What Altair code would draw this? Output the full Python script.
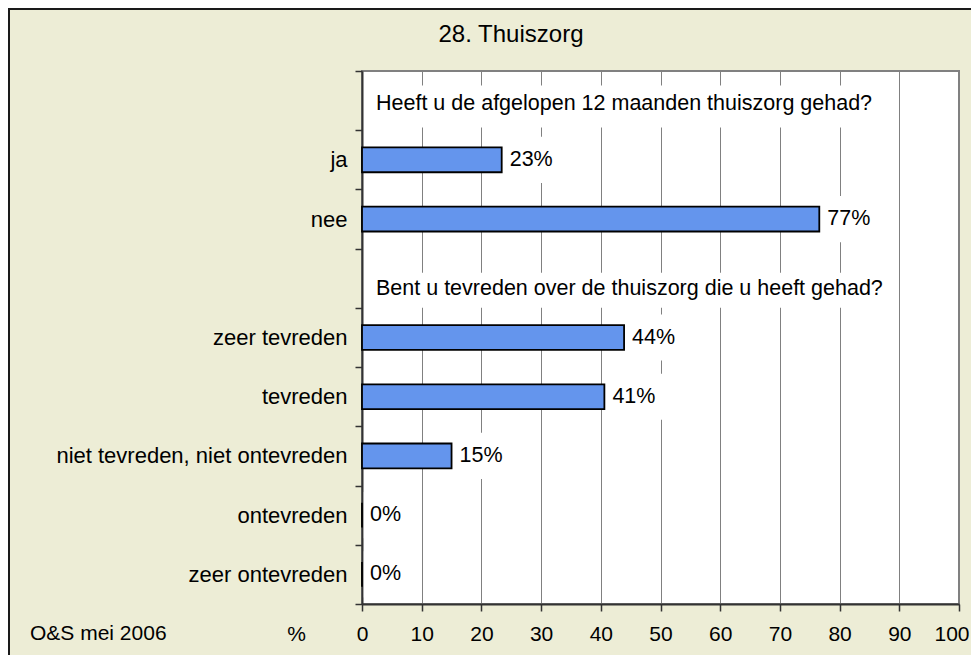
import altair as alt
import pandas as pd

# ---- data -------------------------------------------------------------
row_order = ["h1", "ja", "nee", "h2", "zeer tevreden", "tevreden",
             "niet tevreden, niet ontevreden", "ontevreden", "zeer ontevreden"]
categories = ["ja", "nee", "zeer tevreden", "tevreden",
              "niet tevreden, niet ontevreden", "ontevreden", "zeer ontevreden"]
values = [23.4, 76.6, 43.9, 40.6, 15.0, 0.0, 0.0]
header_rows = ["h1", "h2"]
headers = ["Heeft u de afgelopen 12 maanden thuiszorg gehad?",
           "Bent u tevreden over de thuiszorg die u heeft gehad?"]
x_ticks = list(range(0, 101, 10))
chart_title = "28. Thuiszorg"
source_note = "O&S mei 2006"

FONT = "Liberation Sans"
BEIGE = "#EDEDD6"

df = pd.DataFrame({"row": categories, "value": values})
df["label"] = [f"{round(v)}%" for v in values]
hdf = pd.DataFrame({"row": header_rows, "text": headers})

W, H = 597, 533

y_enc = alt.Y("row:N",
              scale=alt.Scale(domain=row_order, paddingInner=0, paddingOuter=0),
              sort=row_order,
              axis=alt.Axis(title=None, labelExpr="indexof(['h1','h2'], datum.value) >= 0 ? '' : datum.value",
                            tickBand="extent", tickSize=7, tickColor="#333333", tickWidth=1.5,
                            domainColor="#333333", domainWidth=2, labelFontSize=22,
                            labelColor="black", labelPadding=8, labelFont=FONT, grid=False,
                            labelLimit=0))
x_scale = alt.Scale(domain=[0, 100], nice=False, zero=True)
x_axis = alt.Axis(values=x_ticks, title="%", titleX=-66, titleY=30, titleBaseline="middle",
                  titleAlign="center", titleFontWeight="normal", titleFontSize=21,
                  titleFont=FONT, titleColor="black",
                  grid=True, gridColor="#808080", gridWidth=1,
                  tickSize=7, tickColor="#333333", tickWidth=1.5,
                  domainColor="#333333", domainWidth=2,
                  labelFontSize=21, labelFont=FONT, labelColor="black",
                  labelBaseline="middle", labelPadding=23, labelFlush=False,
                  labelAlign=alt.expr("datum.value == 100 ? 'right' : 'center'"),
                  labelOffset=alt.expr("datum.value == 100 ? 10 : 0"))

base = alt.Chart(df)

# white boxes behind value labels (interrupt gridlines like the original)
val_boxes = base.transform_calculate(
    x0="datum.value + 0.3", x1="datum.value + 10"
).mark_bar(color="white", height=alt.RelativeBandSize(0.78)).encode(
    x=alt.X("x0:Q", scale=x_scale, axis=x_axis), x2="x1:Q", y=y_enc
)

# white boxes behind header texts
hdr_boxes = []
for r, dy, hgt in [("h1", 6, 42), ("h2", 12, 35)]:
    hdr_boxes.append(
        alt.Chart(hdf).transform_filter(alt.datum.row == r)
        .mark_bar(color="white", height=hgt, yOffset=dy)
        .encode(x=alt.X(datum=1.2, scale=x_scale), x2=alt.X2(datum=88.5), y=y_enc)
    )

bars = base.mark_bar(color="#6495ED", stroke="black", strokeWidth=1.8,
                     height=alt.RelativeBandSize(0.42)).encode(
    x=alt.X("value:Q", scale=x_scale, axis=x_axis), y=y_enc
)

labels = base.mark_text(align="left", baseline="middle", dx=8, fontSize=21.5,
                        font=FONT, color="black").encode(
    x=alt.X("value:Q", scale=x_scale), y=y_enc, text="label:N"
)

hdr_texts = []
for r, dy in [("h1", 3), ("h2", 11)]:
    hdr_texts.append(
        alt.Chart(hdf).transform_filter(alt.datum.row == r)
        .mark_text(align="left", baseline="middle", dy=dy, fontSize=21.5,
                   font=FONT, color="black")
        .encode(x=alt.value(14), y=y_enc, text="text:N")
    )

one = pd.DataFrame({"k": [0]})
frame = alt.Chart(one).mark_rect(fillOpacity=0, stroke="#1a1a1a", strokeWidth=2).encode(
    x=alt.value(-353), x2=alt.value(800), y=alt.value(-62), y2=alt.value(800)
)
title = alt.Chart(one).mark_text(align="center", baseline="middle", fontSize=24,
                                 font=FONT, color="black").encode(
    x=alt.value(149), y=alt.value(-36), text=alt.value(chart_title)
)
note = alt.Chart(one).mark_text(align="left", baseline="middle", fontSize=21,
                                font=FONT, color="black").encode(
    x=alt.value(-332), y=alt.value(563), text=alt.value(source_note)
)

chart = alt.layer(val_boxes, *hdr_boxes, bars, labels, *hdr_texts, frame, title, note).properties(
    width=W, height=H,
    autosize=alt.AutoSizeParams(type="none"),
    padding={"left": 354, "top": 63, "right": 12, "bottom": 51},
    background=BEIGE,
).configure_view(
    fill="white", stroke="#808080", strokeWidth=2
)

chart.save("out.html", embed_options={"renderer": "svg", "actions": False})
